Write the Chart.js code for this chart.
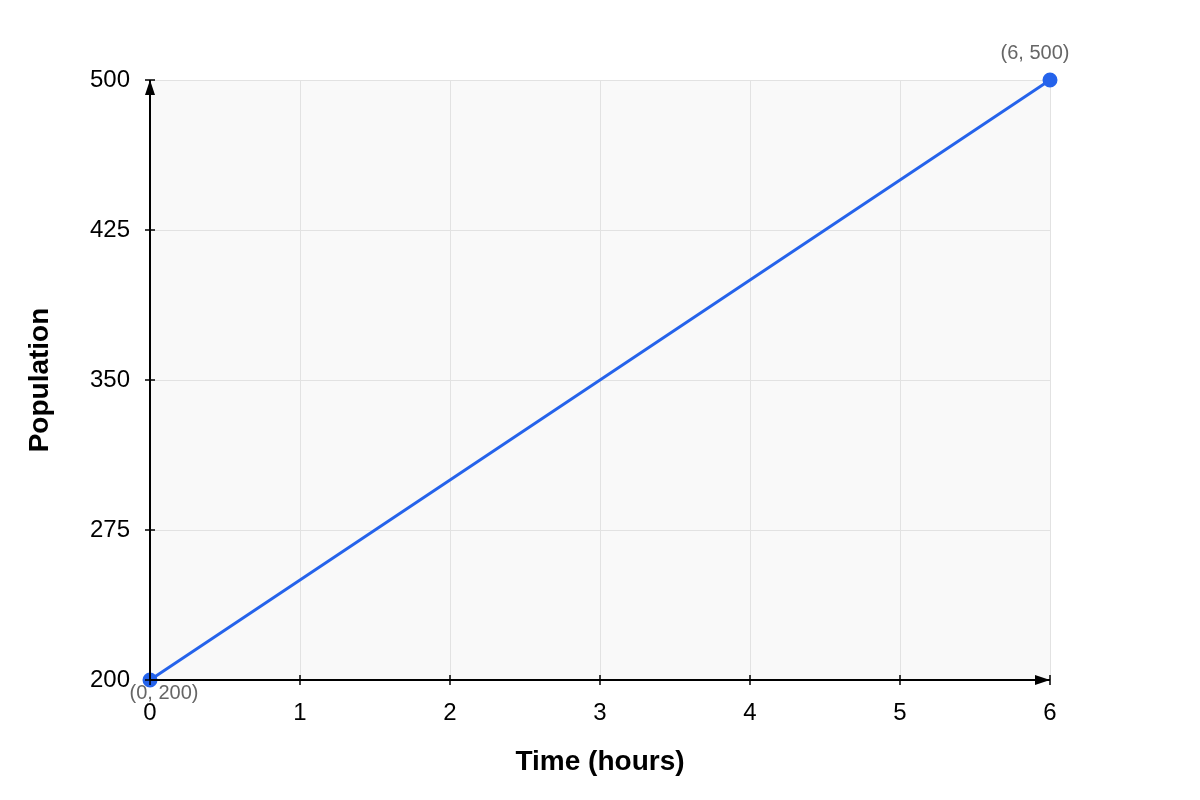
<!DOCTYPE html>
<html>
<head>
<meta charset="utf-8">
<script src="https://cdn.jsdelivr.net/npm/chart.js@4"></script>
<style>
  html, body { margin: 0; padding: 0; background: #fff; }
  #wrap { width: 1200px; height: 800px; }
</style>
</head>
<body>
<div id="wrap"><canvas id="popChart" width="1200" height="800"></canvas></div>
<script>
const timeHours = [0, 6];
const population = [200, 500];
const xTicks = [0, 1, 2, 3, 4, 5, 6];
const yTicks = [200, 275, 350, 425, 500];
const pointLabels = ["(0, 200)", "(6, 500)"];

const FONT = "'Liberation Sans', Arial, sans-serif";

// grey plot background + black axes with arrows and crossing tick marks
const axesPlugin = {
  id: "axes",
  beforeDraw(chart) {
    const { ctx, chartArea: a } = chart;
    ctx.save();
    ctx.fillStyle = "#f9f9f9";
    ctx.fillRect(a.left, a.top, a.right - a.left, a.bottom - a.top);
    ctx.restore();
  },
  afterDraw(chart) {
    const { ctx, chartArea: a, scales } = chart;
    ctx.save();
    ctx.strokeStyle = "#000";
    ctx.fillStyle = "#000";
    ctx.lineWidth = 2;
    ctx.beginPath();
    ctx.moveTo(a.left, a.bottom);
    ctx.lineTo(a.left, a.top);
    ctx.moveTo(a.left, a.bottom);
    ctx.lineTo(a.right, a.bottom);
    ctx.stroke();
    ctx.lineWidth = 1.5;
    ctx.beginPath();
    yTicks.forEach(v => {
      const y = scales.y.getPixelForValue(v);
      ctx.moveTo(a.left - 5, y);
      ctx.lineTo(a.left + 5, y);
    });
    xTicks.forEach(v => {
      const x = scales.x.getPixelForValue(v);
      ctx.moveTo(x, a.bottom - 5);
      ctx.lineTo(x, a.bottom + 5);
    });
    ctx.stroke();
    // arrow heads
    ctx.beginPath();
    ctx.moveTo(a.left, a.top);
    ctx.lineTo(a.left - 5, a.top + 15);
    ctx.lineTo(a.left + 5, a.top + 15);
    ctx.closePath();
    ctx.fill();
    ctx.beginPath();
    ctx.moveTo(a.right, a.bottom);
    ctx.lineTo(a.right - 15, a.bottom - 5);
    ctx.lineTo(a.right - 15, a.bottom + 5);
    ctx.closePath();
    ctx.fill();
    ctx.restore();
  },
  afterDatasetsDraw(chart) {
    const { ctx } = chart;
    const pts = chart.getDatasetMeta(0).data;
    ctx.save();
    ctx.fillStyle = "#666";
    ctx.font = "20px " + FONT;
    ctx.textAlign = "center";
    ctx.textBaseline = "middle";
    ctx.fillText(pointLabels[0], pts[0].x + 14, pts[0].y + 13);
    ctx.fillText(pointLabels[1], pts[1].x - 15, pts[1].y - 27);
    ctx.restore();
  }
};

new Chart(document.getElementById("popChart"), {
  type: "scatter",
  data: {
    datasets: [{
      data: timeHours.map((t, i) => ({ x: t, y: population[i] })),
      showLine: true,
      borderColor: "#2563eb",
      backgroundColor: "#2563eb",
      borderWidth: 3,
      pointRadius: 6,
      pointHoverRadius: 6,
      clip: false
    }]
  },
  options: {
    responsive: false,
    animation: false,
    layout: { padding: { top: 80, right: 150, left: 0, bottom: 0 } },
    plugins: { legend: { display: false }, tooltip: { enabled: false } },
    scales: {
      x: {
        type: "linear",
        min: 0,
        max: 6,
        afterFit: s => { s.height = 120; },
        afterBuildTicks: s => { s.ticks = xTicks.map(v => ({ value: v })); },
        grid: { color: "#e2e2e2", lineWidth: 1, drawTicks: false },
        border: { display: false },
        ticks: { color: "#000", padding: 19, font: { family: FONT, size: 24 } },
        title: {
          display: true,
          text: "Time (hours)",
          color: "#000",
          font: { family: FONT, size: 28, weight: "bold" },
          padding: { top: 0, bottom: 21 }
        }
      },
      y: {
        type: "linear",
        min: 200,
        max: 500,
        afterFit: s => { s.width = 150; },
        afterBuildTicks: s => { s.ticks = yTicks.map(v => ({ value: v })); },
        grid: { color: "#e2e2e2", lineWidth: 1, drawTicks: false },
        border: { display: false },
        ticks: { color: "#000", padding: 20, font: { family: FONT, size: 24 } },
        title: {
          display: true,
          text: "Population",
          color: "#000",
          font: { family: FONT, size: 28, weight: "bold" },
          padding: { top: 23, bottom: 0 }
        }
      }
    }
  },
  plugins: [axesPlugin]
});
</script>
</body>
</html>
